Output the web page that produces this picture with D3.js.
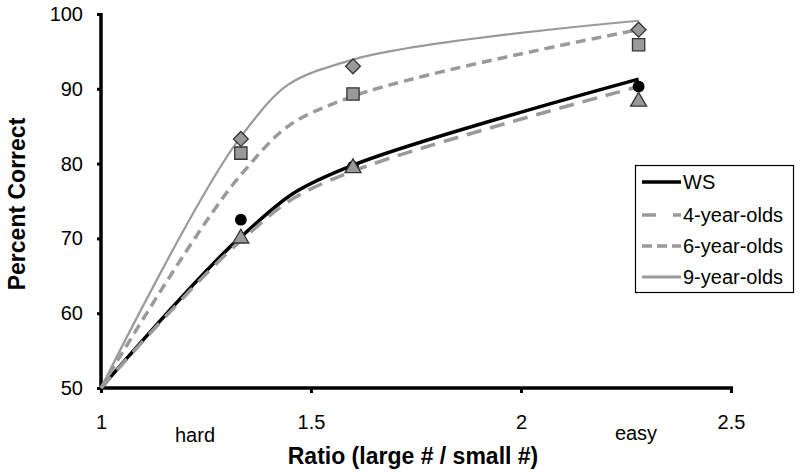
<!DOCTYPE html>
<html><head><meta charset="utf-8">
<script src="https://cdn.jsdelivr.net/npm/d3@7"></script>
<style>body{margin:0;background:#fff}svg{display:block;font-family:Arial,"Liberation Sans",sans-serif}</style>
</head><body><svg id="c" width="800" height="473"></svg>
<script>
// Data
const ratios = [1.333, 1.6, 2.28];
const fitX = [1, 1.333, 1.6, 2.28];
const wsPts = [72.5, 79.6, 90.3];
const age4Pts = [70.2, 79.6, 88.5];
const age6Pts = [81.4, 89.3, 95.9];
const age9Pts = [83.3, 93.0, 97.9];
const wsFit = [50, 70.2, 79.8, 91.3];
const age4Fit = [50, 69.7, 79.0, 90.3];
const age6Fit = [50, 78.5, 89.0, 97.9];
const age9Fit = [50, 83.6, 93.9, 99.1];
const xTicks = [1, 1.5, 2, 2.5];
const yTicks = [50, 60, 70, 80, 90, 100];
const seriesNames = ["WS", "4-year-olds", "6-year-olds", "9-year-olds"];

const svg = d3.select("#c");
const x = d3.scaleLinear().domain([1, 2.5]).range([101, 731]);
const y = d3.scaleLinear().domain([50, 100]).range([388, 14]);
const FONT = "Arial, Liberation Sans, sans-serif";

const styles = [
  {stroke: "#000", width: 3.5, dash: null, fit: wsFit, pts: wsPts, marker: "circle"},
  {stroke: "#9a9a9a", width: 3.5, dash: "15,9", fit: age4Fit, pts: age4Pts, marker: "triangle"},
  {stroke: "#9a9a9a", width: 3.5, dash: "10,6", fit: age6Fit, pts: age6Pts, marker: "square"},
  {stroke: "#9a9a9a", width: 2.2, dash: null, fit: age9Fit, pts: age9Pts, marker: "diamond"}
];

// Axes
const yAxis = d3.axisLeft(y).tickValues(yTicks).tickSize(4).tickPadding(14).tickFormat(d3.format("d"));
const gy = svg.append("g").attr("transform", `translate(${x(1)},0)`).call(yAxis);
gy.select(".domain").attr("stroke-width", 3.5).attr("d", `M0,${y(100)-1}V${y(50)}`);
gy.selectAll(".tick line").attr("stroke-width", 3);
gy.selectAll(".tick text").attr("font-size", 20).attr("font-family", FONT).attr("fill", "#000");

const xAxis = d3.axisBottom(x).tickValues(xTicks).tickSize(5).tickPadding(22).tickFormat(d => d3.format("")(d));
const gx = svg.append("g").attr("transform", `translate(0,${y(50)})`).call(xAxis);
gx.select(".domain").attr("stroke-width", 3.5).attr("d", `M${x(1)},0H${x(2.5)+2}`);
gx.selectAll(".tick line").attr("stroke-width", 3);
gx.selectAll(".tick text").attr("font-size", 20).attr("font-family", FONT).attr("fill", "#000");

// Fit lines
const line = d3.line().x((d, i) => x(fitX[i])).y(d => y(d)).curve(d3.curveCatmullRom.alpha(0));
styles.forEach(s => {
  svg.append("path").attr("d", line(s.fit)).attr("fill", "none")
    .attr("stroke", s.stroke).attr("stroke-width", s.width)
    .attr("stroke-dasharray", s.dash).attr("stroke-linecap", "butt");
});

// Markers
const sym = {
  circle: d3.symbol(d3.symbolCircle, 110),
  triangle: d3.symbol(d3.symbolTriangle, 110),
  square: d3.symbol(d3.symbolSquare, 150),
  diamond: d3.symbol(d3.symbolSquare, 110)
};
[3, 2, 0, 1].forEach(k => {
  const s = styles[k];
  s.pts.forEach((v, i) => {
    const px = x(ratios[i]), py = y(v);
    const p = svg.append("path").attr("d", sym[s.marker]());
    if (s.marker === "circle") {
      p.attr("fill", "#000").attr("transform", `translate(${px},${py})`);
    } else {
      p.attr("fill", "#999").attr("stroke", "#333").attr("stroke-width", 1.3);
      const rot = s.marker === "diamond" ? " rotate(45)" : "";
      const dy = s.marker === "triangle" ? 1.5 : 0;
      p.attr("transform", `translate(${px},${py + dy})${rot}`);
    }
  });
});

// Axis titles
svg.append("text").attr("x", 413).attr("y", 464).attr("text-anchor", "middle").attr("font-family", FONT)
  .attr("font-size", 23).attr("font-weight", "bold").text("Ratio (large # / small #)");
svg.append("text").attr("transform", "translate(25,204) rotate(-90)").attr("text-anchor", "middle").attr("font-family", FONT)
  .attr("font-size", 23).attr("font-weight", "bold").text("Percent Correct");
svg.append("text").attr("x", 195).attr("y", 442).attr("text-anchor", "middle").attr("font-family", FONT).attr("font-size", 20).text("hard");
svg.append("text").attr("x", 636).attr("y", 440).attr("text-anchor", "middle").attr("font-family", FONT).attr("font-size", 20).text("easy");

// Legend
const lg = svg.append("g");
lg.append("rect").attr("x", 635.5).attr("y", 165.5).attr("width", 158).attr("height", 127)
  .attr("fill", "#fff").attr("stroke", "#000").attr("stroke-width", 1.2);
const legY = [182, 215, 246, 277];
const legDash = [null, "14,17", "10,5", null];
seriesNames.forEach((n, i) => {
  const s = styles[i];
  lg.append("line").attr("x1", 642).attr("x2", 681).attr("y1", legY[i]).attr("y2", legY[i])
    .attr("stroke", s.stroke).attr("stroke-width", s.width < 3 ? 3 : 3.5).attr("stroke-dasharray", legDash[i]);
  lg.append("text").attr("x", 683).attr("y", legY[i] + 7).attr("font-family", FONT).attr("font-size", 20).text(n);
});
</script></body></html>
